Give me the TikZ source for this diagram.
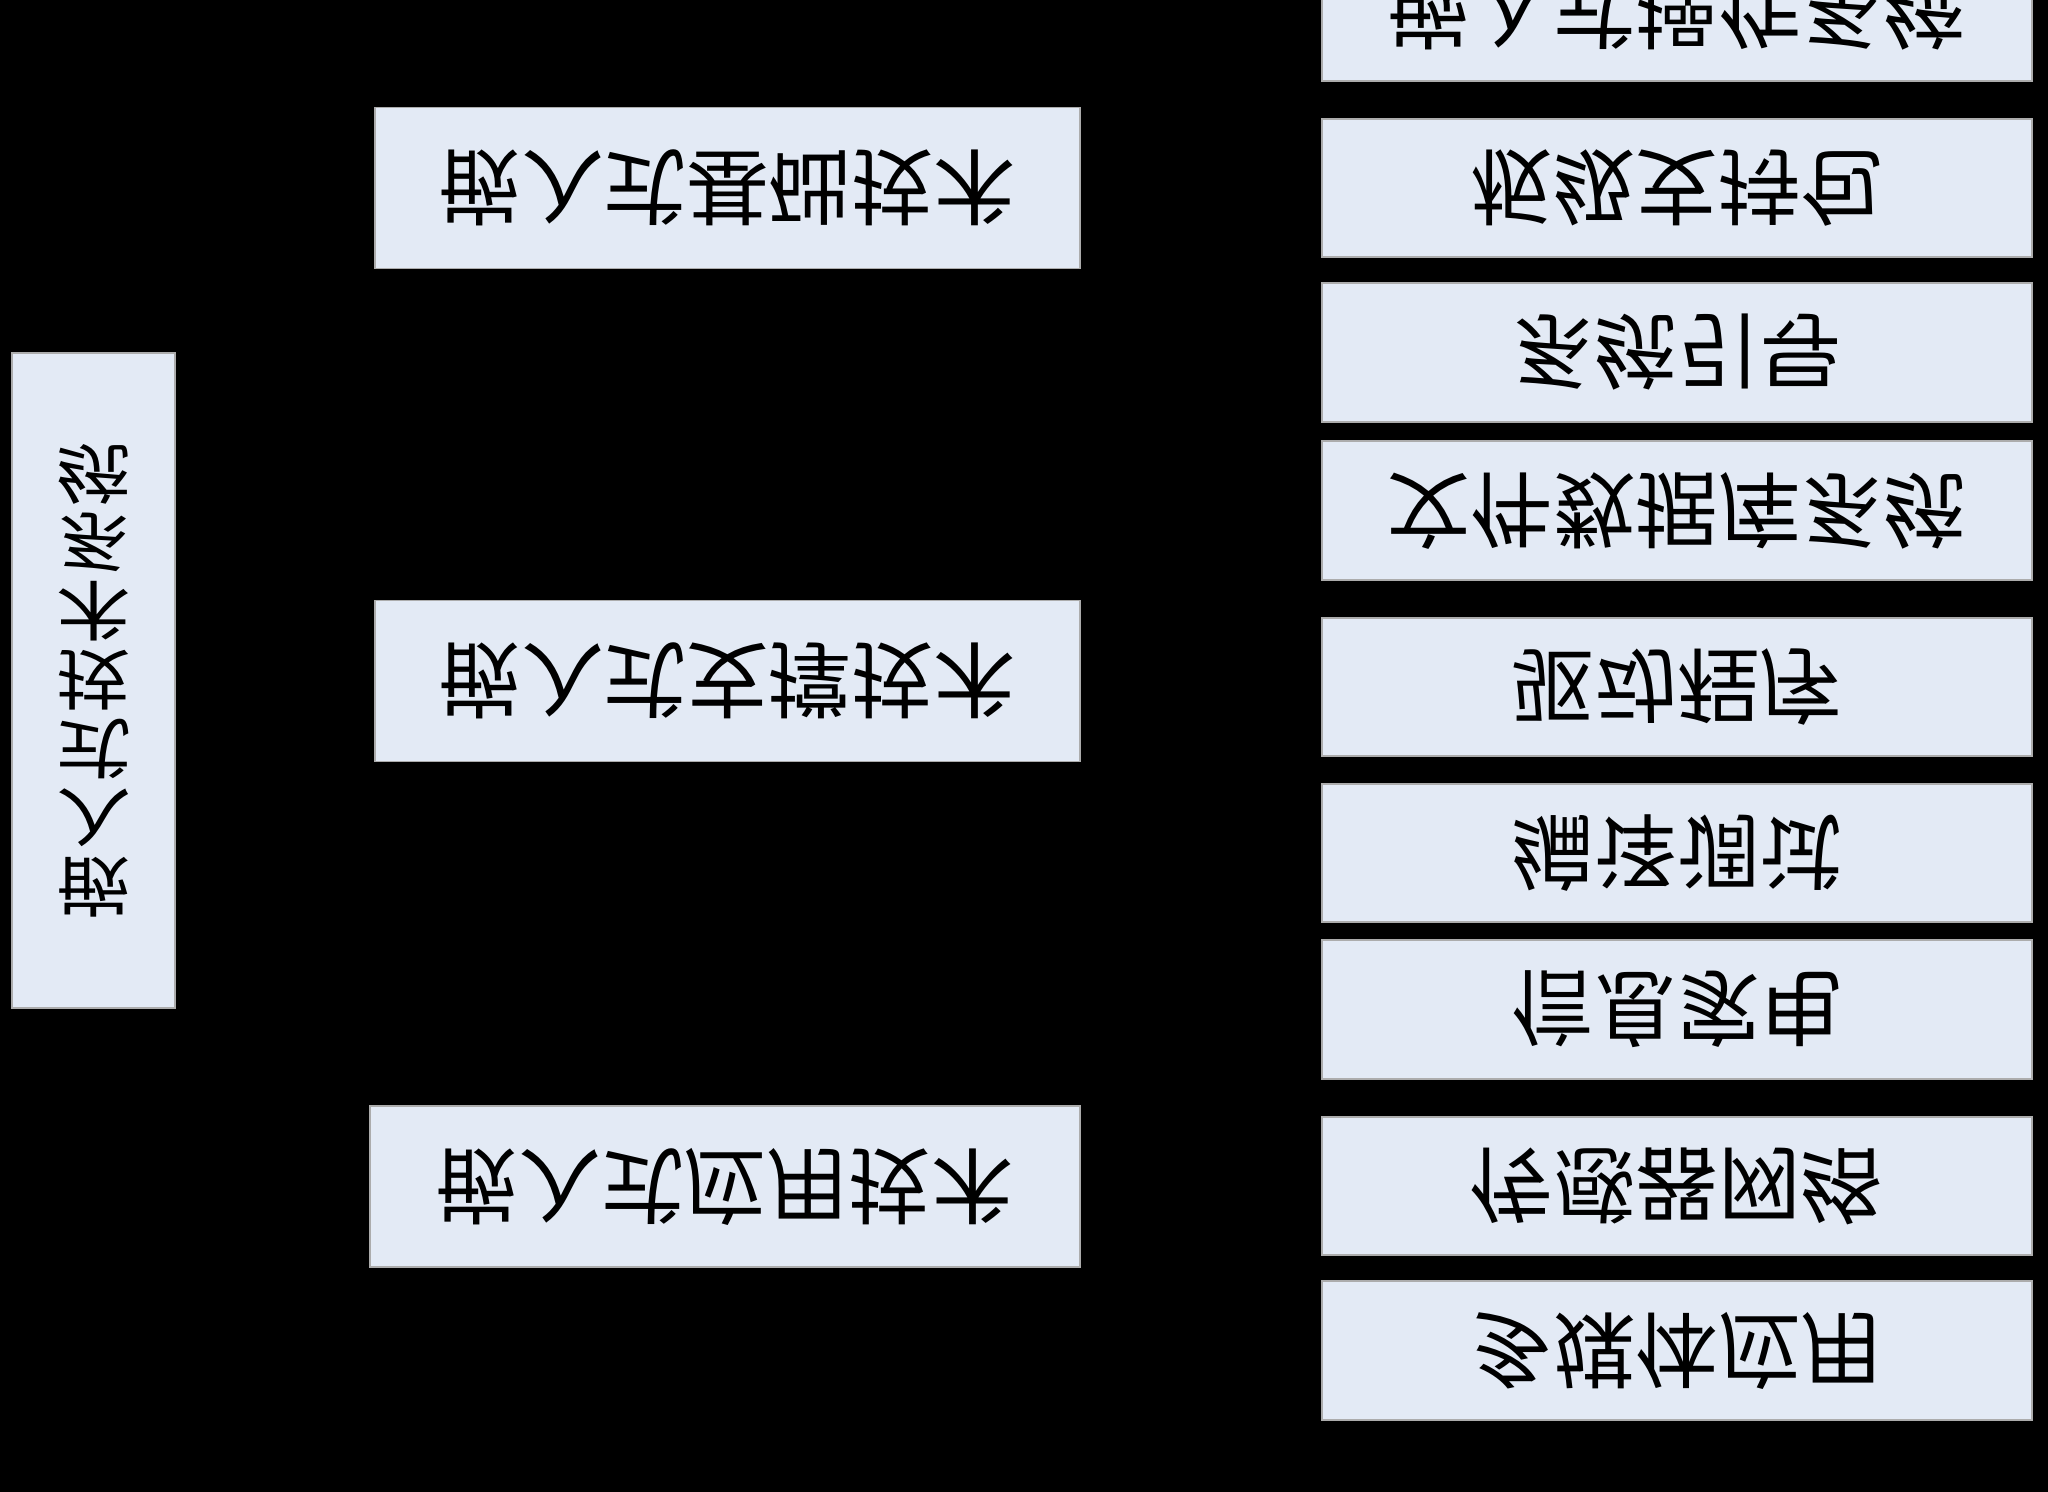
\documentclass[tikz,border=0pt]{standalone}
\usepackage{fontspec}
\usepackage{graphicx}
\newfontfamily\cjk{Noto Sans CJK SC}
\definecolor{pale}{RGB}{227,234,245}
\colorlet{box area}{pale}
\colorlet{box edge}{gray!65}
\def\fliptext#1{\scalebox{1}[-1]{#1}}
\tikzset{block/.style={fill=box area, draw=box edge, line width=0.5pt, inner sep=0pt,
		font=\cjk\fontsize{23.5}{26}\selectfont},
	mid/.style={block, minimum width=7.05cm, minimum height=1.61cm},
	leaf/.style={block, minimum width=7.10cm, minimum height=1.385cm}}

\begin{document}
\begin{tikzpicture}
		\fill[black] (0,0) rectangle (20.48,-14.92);
		\useasboundingbox (0,0) rectangle (20.48,-14.92);
		\clip (0,0) rectangle (20.48,-14.92);
		\node[block, minimum width=1.63cm, minimum height=6.55cm] (root) at (0.935,-6.805)
		{\scalebox{1.15}[-1]{\parbox{1.2cm}{\centering\fontsize{18.5}{19.6}\selectfont\lineskiplimit=-100pt
					嵌\\入\\式\\技\\术\\系\\统}}};
		
		\node[mid] (base) at (7.275,-1.88) {\fliptext{嵌入式基础技术}};
		\node[mid] (supp) at (7.275,-6.81) {\fliptext{嵌入式支撑技术}};
		\node[mid, minimum width=7.10cm] (appl) at (7.25,-11.865) {\fliptext{嵌入式应用技术}};
		
		\node[leaf] (os) at (16.77,-0.115) {\fliptext{嵌入式操作系统}};
		\node[leaf] (bsp) at (16.77,-1.88) {\fliptext{板级支持包}};
		\node[leaf] (boot) at (16.77,-3.525) {\fliptext{系统引导}};
		\node[leaf] (fs) at (16.77,-5.105) {\fliptext{文件数据库系统}};
		\node[leaf] (drv) at (16.77,-6.87) {\fliptext{驱动程序}};
		\node[leaf] (dbg) at (16.77,-8.53) {\fliptext{编译调试}};
		\node[leaf] (home) at (16.77,-10.095) {\fliptext{信息家电}};
		\node[leaf] (sensor) at (16.77,-11.86) {\fliptext{传感器网络}};
		\node[leaf] (media) at (16.77,-13.505) {\fliptext{多媒体应用}};
		\end{tikzpicture}
\end{document}
